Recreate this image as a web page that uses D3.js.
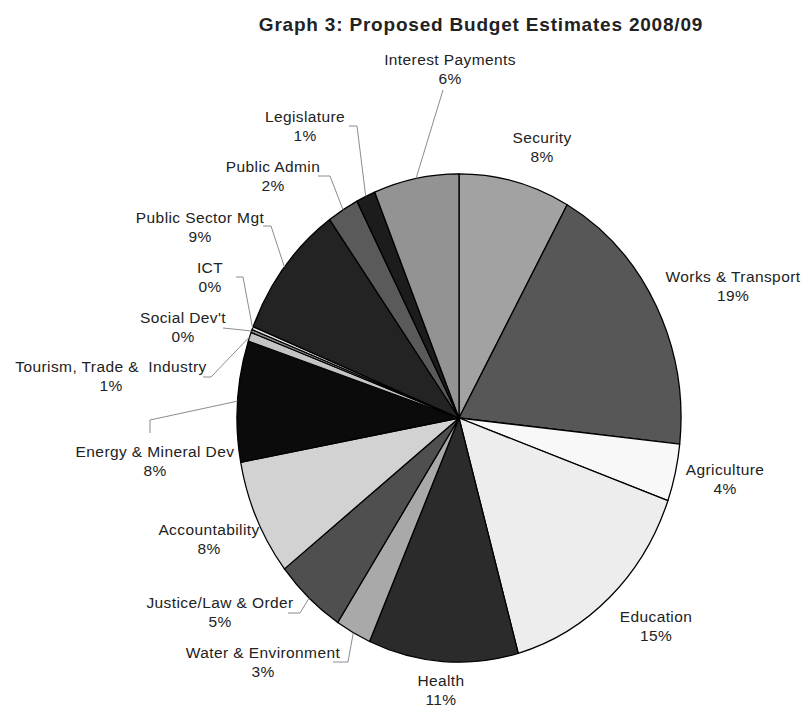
<!DOCTYPE html>
<html>
<head>
<meta charset="utf-8">
<script src="https://cdn.jsdelivr.net/npm/d3@7/dist/d3.min.js"></script>
<style>
  html, body { margin: 0; padding: 0; background: #ffffff; }
  svg { display: block; }
  text { font-family: "Liberation Sans", Arial, sans-serif; fill: #222; white-space: pre; }
</style>
</head>
<body>
<svg id="chart" width="806" height="708"></svg>
<script>
// Budget shares by sector, clockwise from twelve o'clock (percent of total)
const sectors = [
  "Security", "Works & Transport", "Agriculture", "Education", "Health",
  "Water & Environment", "Justice/Law & Order", "Accountability",
  "Energy & Mineral Dev", "Tourism, Trade &  Industry", "Social Dev't", "ICT",
  "Public Sector Mgt", "Public Admin", "Legislature", "Interest Payments"
];
const shares = [8.1, 18.6, 3.8, 15.2, 10.9, 2.6, 5.2, 7.7, 8.0, 0.6, 0.2, 0.2, 9.0, 2.3, 1.4, 6.2];
const fills = [
  "#a2a2a2", "#575757", "#f8f8f8", "#ededed", "#2b2b2b",
  "#a9a9a9", "#4f4f4f", "#d2d2d2", "#0b0b0b", "#c4c4c4",
  "#8a8a8a", "#e6e6e6", "#232323", "#5a5a5a", "#1c1c1c", "#939393"
];

// Label placement: centre x, first-line baseline y, leader points before the slice edge
const labelLayout = {
  "Security":                   { x: 542, y: 143, leader: null },
  "Works & Transport":          { x: 733, y: 282, leader: null },
  "Agriculture":                { x: 725, y: 475, leader: null },
  "Education":                  { x: 656, y: 622, leader: null },
  "Health":                     { x: 441, y: 686, leader: null },
  "Water & Environment":        { x: 263, y: 658, leader: [[333, 662], [348, 662]] },
  "Justice/Law & Order":        { x: 220, y: 608, leader: [[288, 613], [300, 613]] },
  "Accountability":             { x: 209, y: 535, leader: null },
  "Energy & Mineral Dev":       { x: 155, y: 457, leader: [[150, 433], [150, 420]] },
  "Tourism, Trade &  Industry": { x: 111, y: 372, leader: [[203, 377], [211, 377]] },
  "Social Dev't":               { x: 183, y: 323, leader: [[223, 328]] },
  "ICT":                        { x: 210, y: 273, leader: [[236, 277], [243, 277]] },
  "Public Sector Mgt":          { x: 200, y: 223, leader: [[263, 226], [271, 226]] },
  "Public Admin":               { x: 273, y: 172, leader: [[318, 176], [330, 176]] },
  "Legislature":                { x: 305, y: 122, leader: [[349, 126], [357, 126]] },
  "Interest Payments":          { x: 450, y: 65,  leader: [[443, 90]] }
};

const svg = d3.select("#chart");
const cx = 459, cy = 418, radius = 222, yStretch = 1.1;

svg.append("text")
  .attr("x", 481).attr("y", 31)
  .attr("text-anchor", "middle")
  .style("font-size", "19px").style("font-weight", "bold")
  .style("letter-spacing", "0.8px")
  .text("Graph 3: Proposed Budget Estimates 2008/09");

const data = sectors.map((name, i) => ({ name, value: shares[i], fill: fills[i] }));
const total = d3.sum(data, d => d.value);

const pie = d3.pie().sort(null).value(d => d.value).startAngle(0).endAngle(2 * Math.PI);
const arcs = pie(data);
const arc = d3.arc().innerRadius(0).outerRadius(radius);

const pieG = svg.append("g")
  .attr("transform", `translate(${cx},${cy}) scale(1,${yStretch})`);

pieG.selectAll("path")
  .data(arcs)
  .join("path")
  .attr("d", arc)
  .attr("fill", d => d.data.fill)
  .attr("stroke", "#000")
  .attr("stroke-width", 1.3)
  .attr("vector-effect", "non-scaling-stroke")
  .attr("stroke-linejoin", "round");

// Point on the (vertically stretched) rim at a slice's middle angle
function rimPoint(d) {
  const a = (d.startAngle + d.endAngle) / 2;
  return [cx + radius * Math.sin(a), cy - radius * yStretch * Math.cos(a)];
}

const line = d3.line();
const leaders = svg.append("g");
const labels = svg.append("g");

arcs.forEach(d => {
  const lay = labelLayout[d.data.name];
  if (lay.leader) {
    leaders.append("path")
      .attr("d", line(lay.leader.concat([rimPoint(d)])))
      .attr("fill", "none")
      .attr("stroke", "#8c8c8c")
      .attr("stroke-width", 1);
  }
  const t = labels.append("text")
    .attr("text-anchor", "middle")
    .style("font-size", "15.5px")
    .style("letter-spacing", "0.4px");
  t.append("tspan").attr("x", lay.x).attr("y", lay.y).text(d.data.name);
  t.append("tspan").attr("x", lay.x).attr("y", lay.y + 19)
    .text(Math.round(d.data.value / total * 100) + "%");
});
</script>
</body>
</html>
